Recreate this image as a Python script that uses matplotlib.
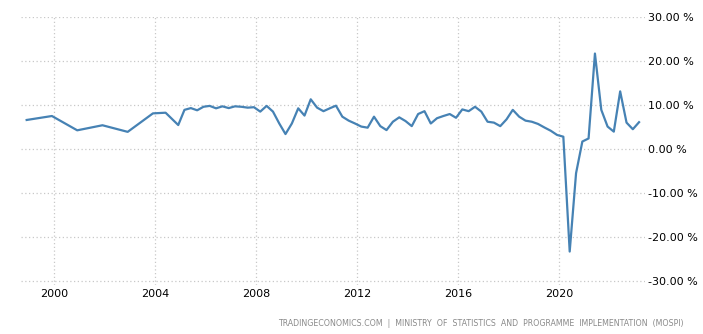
import pandas as pd
import matplotlib
matplotlib.use("Agg")
import matplotlib.pyplot as plt
import matplotlib.dates as mdates

# India GDP annual growth rate (%)
dates = ["1998-12", "1999-12", "2000-12", "2001-12", "2002-12", "2003-12",
         "2004-06", "2004-12",
         "2005-03", "2005-06", "2005-09", "2005-12",
         "2006-03", "2006-06", "2006-09", "2006-12",
         "2007-03", "2007-06", "2007-09", "2007-12",
         "2008-03", "2008-06", "2008-09", "2008-12",
         "2009-03", "2009-06", "2009-09", "2009-12",
         "2010-03", "2010-06", "2010-09", "2010-12",
         "2011-03", "2011-06", "2011-09", "2011-12",
         "2012-03", "2012-06", "2012-09", "2012-12",
         "2013-03", "2013-06", "2013-09", "2013-12",
         "2014-03", "2014-06", "2014-09", "2014-12",
         "2015-03", "2015-06", "2015-09", "2015-12",
         "2016-03", "2016-06", "2016-09", "2016-12",
         "2017-03", "2017-06", "2017-09", "2017-12",
         "2018-03", "2018-06", "2018-09", "2018-12",
         "2019-03", "2019-06", "2019-09", "2019-12",
         "2020-03", "2020-06", "2020-09", "2020-12",
         "2021-03", "2021-06", "2021-09", "2021-12",
         "2022-03", "2022-06", "2022-09", "2022-12",
         "2023-03"]
growth = [6.6, 7.5, 4.25, 5.4, 3.9, 8.1,
          8.25, 5.45,
          8.9, 9.3, 8.8, 9.6,
          9.8, 9.25, 9.7, 9.3,
          9.7, 9.6, 9.4, 9.5,
          8.5, 9.8, 8.5, 5.8,
          3.4, 5.8, 9.25, 7.6,
          11.3, 9.4, 8.6, 9.25,
          9.85, 7.35, 6.45, 5.8,
          5.1, 4.85, 7.35, 5.2,
          4.3, 6.2, 7.2, 6.35,
          5.2, 7.95, 8.6, 5.8,
          7.0, 7.5, 7.95, 7.1,
          9.0, 8.6, 9.6, 8.5,
          6.2, 6.0, 5.2, 6.75,
          8.9, 7.35, 6.45, 6.2,
          5.7, 4.9, 4.15, 3.2,
          2.8, -23.3, -5.5, 1.7,
          2.4, 21.7, 8.9, 5.1,
          3.95, 13.1, 6.0, 4.5,
          6.1]
year_ticks = [2000, 2004, 2008, 2012, 2016, 2020]
y_ticks = [-30, -20, -10, 0, 10, 20, 30]

x = pd.to_datetime(dates)

fig = plt.figure(figsize=(7.03, 3.34), dpi=100)
ax = fig.add_axes([21 / 703, 49 / 334, 624 / 703, 268 / 334])

ax.plot(x, growth, color="#4682b4", linewidth=1.6)

ax.set_xlim(pd.Timestamp("1998-09-10"), pd.Timestamp("2023-05-26"))
ax.set_ylim(-30.9, 30)

ax.set_xticks([pd.Timestamp(f"{y}-01-01") for y in year_ticks])
ax.xaxis.set_major_formatter(mdates.DateFormatter("%Y"))
ax.set_yticks(y_ticks)
ax.set_yticklabels([f"{v:.2f} %" for v in y_ticks])

ax.yaxis.tick_right()
ax.tick_params(axis="both", length=0, labelsize=8, colors="#000000")
ax.tick_params(axis="y", pad=2)
ax.tick_params(axis="x", pad=3)
for lbl in ax.get_yticklabels():
    lbl.set_horizontalalignment("left")

for s in ax.spines.values():
    s.set_visible(False)
ax.grid(True, color="#c8c8c8", linestyle=(0, (1, 2)), linewidth=0.9)
ax.set_axisbelow(True)

fig.text(684 / 703, 1 - 323 / 334,
         "TRADINGECONOMICS.COM  |  MINISTRY  OF  STATISTICS  AND  PROGRAMME  IMPLEMENTATION  (MOSPI)",
         ha="right", va="center", fontsize=5.7, color="#8a8a8a")

fig.savefig("out.png", dpi=100)
